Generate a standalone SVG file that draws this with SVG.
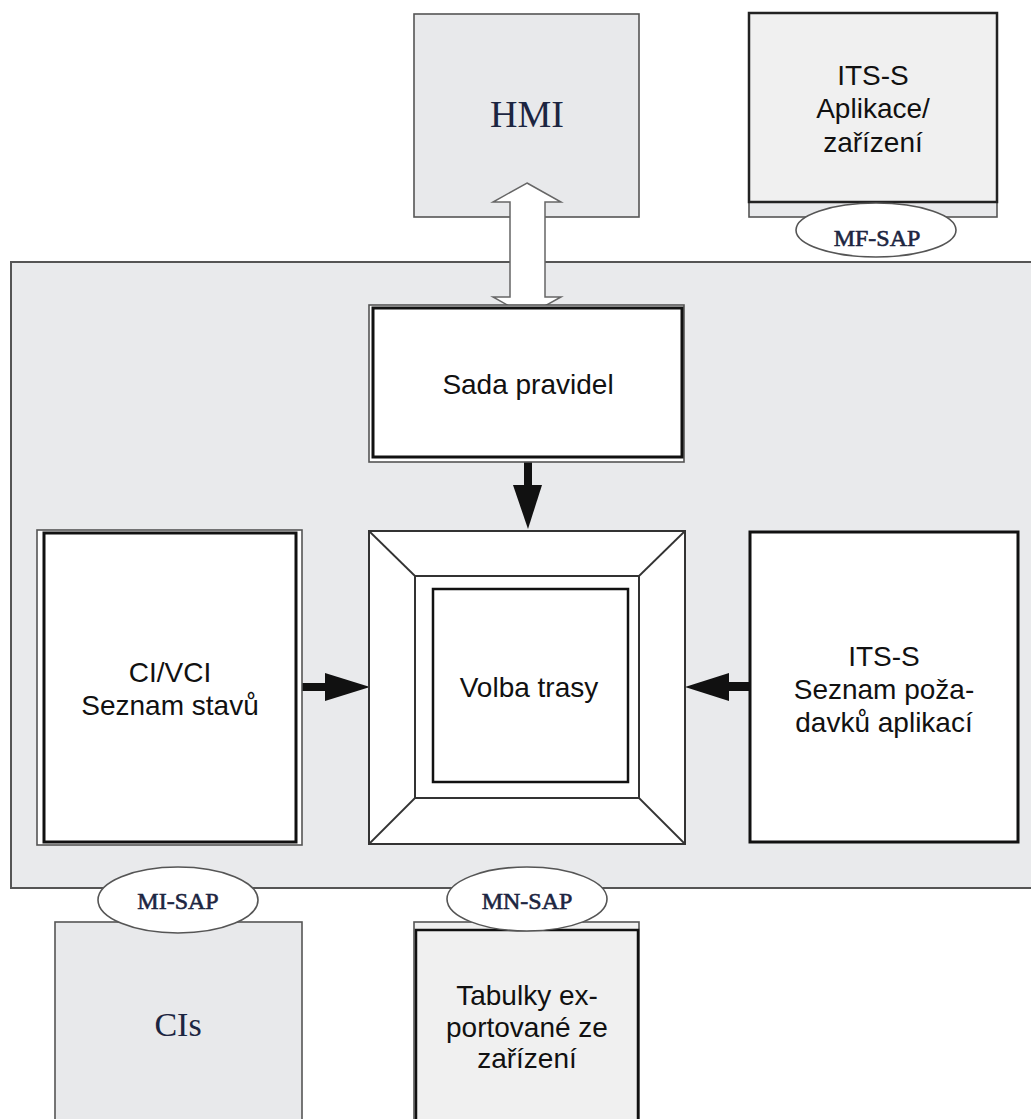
<svg xmlns="http://www.w3.org/2000/svg" width="1031" height="1119" viewBox="0 0 1031 1119">
<style>
.sans{font-family:"Liberation Sans",Arial,sans-serif;font-size:28px;fill:#111;text-anchor:middle}
.serif{font-family:"Liberation Serif","Times New Roman",serif;fill:#1c2541;text-anchor:middle}
.sapt{font-family:"Liberation Serif","Times New Roman",serif;fill:#1c2541;stroke:#1c2541;stroke-width:0.6;text-anchor:middle;font-size:24px}
.gray{fill:#e8e9eb;stroke:#555;stroke-width:1.6}
.light{fill:#f0f0f0;stroke:#555;stroke-width:1.6}
.thin{fill:#fff;stroke:#555;stroke-width:1.6}
.thick{fill:#fff;stroke:#111;stroke-width:3}
.sap{fill:#fff;stroke:#555;stroke-width:1.6}
.frame{fill:#fff;stroke:#333;stroke-width:2}
.blk{fill:#111;stroke:none}
</style>
<rect x="0" y="0" width="1031" height="1119" fill="#fff"/>
<g id="container">
<rect x="11" y="262" width="1030" height="626" fill="#e9eaec" stroke="#555" stroke-width="2"/>
</g>
<g id="hmi">
<rect class="gray" x="414" y="14" width="225" height="203"/>
<text class="serif" x="527" y="127" font-size="38">HMI</text>
</g>
<g id="its-app">
<rect class="gray" x="749" y="13" width="248" height="204"/>
<rect x="749" y="13" width="248" height="189" fill="#f0f0f0" stroke="#222" stroke-width="2.5"/>
<text class="sans" x="873" y="85">ITS-S</text>
<text class="sans" x="873" y="118">Aplikace/</text>
<text class="sans" x="873" y="152">zařízení</text>
</g>
<g id="cis">
<rect class="gray" x="55" y="922" width="247" height="210"/>
<text class="serif" x="178" y="1036" font-size="34">CIs</text>
</g>
<g id="tabulky">
<rect class="light" x="414" y="922" width="225" height="210"/>
<rect x="416" y="930" width="222" height="200" fill="#f0f0f0" stroke="#111" stroke-width="2.5"/>
<text class="sans" x="527" y="1005">Tabulky ex-</text>
<text class="sans" x="527" y="1037">portované ze</text>
<text class="sans" x="527" y="1068">zařízení</text>
</g>
<g id="connectors">
<polygon points="527,183 561,202 545,202 545,297 561,297 527,316 493,297 510,297 510,202 493,202" fill="#fff" stroke="#666" stroke-width="1.5" stroke-linejoin="miter"/>
<rect class="blk" x="524" y="460" width="8" height="26"/>
<polygon class="blk" points="513,485 542,485 528,529"/>
<rect class="blk" x="300" y="683" width="26" height="8"/>
<polygon class="blk" points="325,673 325,701 370,687"/>
<rect class="blk" x="728" y="682" width="24" height="9"/>
<polygon class="blk" points="729,673 729,701 685,687"/>
</g>
<g id="sada">
<rect class="thin" x="369" y="305" width="315" height="157"/>
<rect class="thick" x="373" y="308" width="309" height="149"/>
<text class="sans" x="528" y="394">Sada pravidel</text>
</g>
<g id="ci-vci">
<rect class="thin" x="37" y="530" width="265" height="315"/>
<rect class="thick" x="44" y="533" width="252" height="309"/>
<text class="sans" x="170" y="682">CI/VCI</text>
<text class="sans" x="170" y="715">Seznam stavů</text>
</g>
<g id="its-req">
<rect class="thick" x="750" y="532" width="268" height="310"/>
<text class="sans" x="884" y="666">ITS-S</text>
<text class="sans" x="884" y="699">Seznam poža-</text>
<text class="sans" x="884" y="732">davků aplikací</text>
</g>
<g id="volba">
<rect class="frame" x="369" y="531" width="316" height="313"/>
<rect class="frame" x="415" y="576" width="224" height="222"/>
<line x1="369" y1="531" x2="415" y2="576" stroke="#333" stroke-width="1.8"/>
<line x1="685" y1="531" x2="639" y2="576" stroke="#333" stroke-width="1.8"/>
<line x1="369" y1="844" x2="415" y2="798" stroke="#333" stroke-width="1.8"/>
<line x1="685" y1="844" x2="639" y2="798" stroke="#333" stroke-width="1.8"/>
<rect x="433" y="589" width="195" height="193" fill="#fff" stroke="#111" stroke-width="2.5"/>
<text class="sans" x="529" y="697">Volba trasy</text>
</g>
<g id="mf-sap">
<ellipse class="sap" cx="876" cy="230" rx="80" ry="27"/>
<text class="sapt" x="877" y="246">MF-SAP</text>
</g>
<g id="mi-sap">
<ellipse class="sap" cx="178" cy="900" rx="80" ry="33"/>
<text class="sapt" x="178" y="909">MI-SAP</text>
</g>
<g id="mn-sap">
<ellipse class="sap" cx="527" cy="899" rx="80" ry="32"/>
<text class="sapt" x="527" y="909">MN-SAP</text>
</g>
</svg>
